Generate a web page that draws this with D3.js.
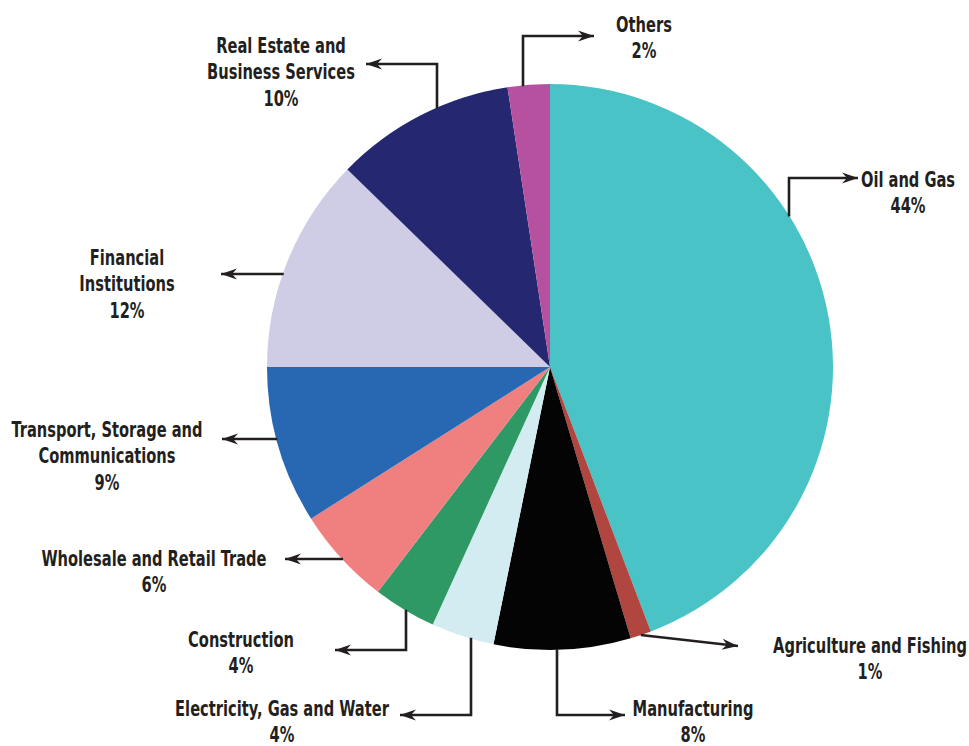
<!DOCTYPE html>
<html>
<head>
<meta charset="utf-8">
<script src="https://cdn.jsdelivr.net/npm/d3@7"></script>
<style>
  body { margin: 0; background: #fff; }
  .label { font-family: "Liberation Sans Narrow", "Arial Narrow", "DejaVu Sans", sans-serif; font-stretch: condensed; font-weight: bold; font-size: 21px; fill: #231f20; text-anchor: middle; }
</style>
</head>
<body>
<div class="chart"></div>
<script>
var svgWidth = 969;
var svgHeight = 746;

// Shares by sector (clockwise from 12 o'clock)
var categories = ["Oil and Gas", "Agriculture and Fishing", "Manufacturing",
    "Electricity, Gas and Water", "Construction", "Wholesale and Retail Trade",
    "Transport, Storage and Communications", "Financial Institutions",
    "Real Estate and Business Services", "Others"];
var shares = [44.2, 1.2, 7.8, 3.6, 3.6, 5.6, 9.0, 12.3, 10.3, 2.4];
var labelLines = [["Oil and Gas"], ["Agriculture and Fishing"], ["Manufacturing"],
    ["Electricity, Gas and Water"], ["Construction"], ["Wholesale and Retail Trade"],
    ["Transport, Storage and", "Communications"], ["Financial", "Institutions"],
    ["Real Estate and", "Business Services"], ["Others"]];
var colors = ["#49c3c6", "#b0463f", "#040404", "#d3ecf2", "#2e9964",
    "#f08080", "#2868b2", "#cfcde6", "#252770", "#b6519f"];

// label placement and leader shape per slice
// v: vertical from the rim at x up/down to y, then across to tip
// h: horizontal at y from the rim to tip
// d: straight from the slice's rim midpoint to (tipX, y)
var callouts = [
    {tx: 908, ty: 187, kind: "v", x: 789, y: 178, tip: 858},
    {tx: 870, ty: 653, kind: "d", y: 646, tip: 738},
    {tx: 693, ty: 716, kind: "v", x: 557, y: 715, tip: 625},
    {tx: 282, ty: 716, kind: "v", x: 471, y: 715, tip: 400},
    {tx: 241, ty: 647, kind: "v", x: 406, y: 650, tip: 335},
    {tx: 154, ty: 566, kind: "h", y: 559, tip: 285},
    {tx: 107, ty: 437, kind: "h", y: 439, tip: 222},
    {tx: 127, ty: 265, kind: "h", y: 274, tip: 221},
    {tx: 281, ty: 53, kind: "v", x: 437, y: 64, tip: 366},
    {tx: 644, ty: 32, kind: "v", x: 523, y: 36, tip: 594}
];

var cx = 550, cy = 367, radius = 283;
var lineGap = 26.3;

var data = categories.map(function (c, i) {
    return {name: c, value: shares[i], lines: labelLines[i], color: colors[i], call: callouts[i]};
});

var svg = d3.select(".chart")
    .append("svg")
    .attr("width", svgWidth)
    .attr("height", svgHeight);

svg.append("defs").append("marker")
    .attr("id", "arrow")
    .attr("markerUnits", "userSpaceOnUse")
    .attr("viewBox", "-16 -6 17 12")
    .attr("markerWidth", 17)
    .attr("markerHeight", 12)
    .attr("refX", 0)
    .attr("refY", 0)
    .attr("orient", "auto")
    .append("path")
    .attr("d", "M0,0 L-16,-5.5 L-11,0 L-16,5.5 Z")
    .attr("fill", "#231f20");

var pie = d3.pie()
    .sort(null)
    .value(d => d.value);

var arc = d3.arc()
    .innerRadius(0)
    .outerRadius(radius);

var arcs = pie(data);

var pieGroup = svg.append("g")
    .attr("transform", `translate(${cx}, ${cy})`);

pieGroup.selectAll("path")
    .data(arcs)
    .enter()
    .append("path")
    .attr("d", arc)
    .attr("fill", d => d.data.color);

// leader lines
function leaderPoints(d) {
    var c = d.data.call;
    if (c.kind === "v") {
        var dx = c.x - cx;
        var off = Math.sqrt(radius * radius - dx * dx);
        var y0 = c.y < cy ? cy - off + 1 : cy + off - 1;
        return [[c.x, y0], [c.x, c.y], [c.tip, c.y]];
    }
    if (c.kind === "h") {
        var dy = c.y - cy;
        var x0 = cx - Math.sqrt(radius * radius - dy * dy) + 1;
        return [[x0, c.y], [c.tip, c.y]];
    }
    var mid = (d.startAngle + d.endAngle) / 2;
    return [[cx + radius * Math.sin(mid), cy - radius * Math.cos(mid)], [c.tip, c.y]];
}

svg.append("g")
    .selectAll("path")
    .data(arcs)
    .enter()
    .append("path")
    .attr("d", d => d3.line()(leaderPoints(d)))
    .attr("fill", "none")
    .attr("stroke", "#231f20")
    .attr("stroke-width", 2.6)
    .attr("marker-end", "url(#arrow)");

// labels
var labels = svg.append("g")
    .selectAll("text")
    .data(arcs)
    .enter()
    .append("text")
    .attr("class", "label");

labels.each(function (d) {
    var t = d3.select(this);
    var lines = d.data.lines.concat([Math.round(d.data.value) + "%"]);
    lines.forEach(function (s, i) {
        t.append("tspan")
            .attr("x", d.data.call.tx)
            .attr("y", d.data.call.ty + i * lineGap)
            .text(s);
    });
});

// the original face is a condensed gothic; squeeze whatever font we got to the same width
var probe = labels.filter(d => d.index === 1).select("tspan").node();
var squeeze = Math.min(1, 194 / probe.getComputedTextLength());
labels.attr("transform", d => `translate(${d.data.call.tx},0) scale(${squeeze},1) translate(${-d.data.call.tx},0)`);
</script>
</body>
</html>
